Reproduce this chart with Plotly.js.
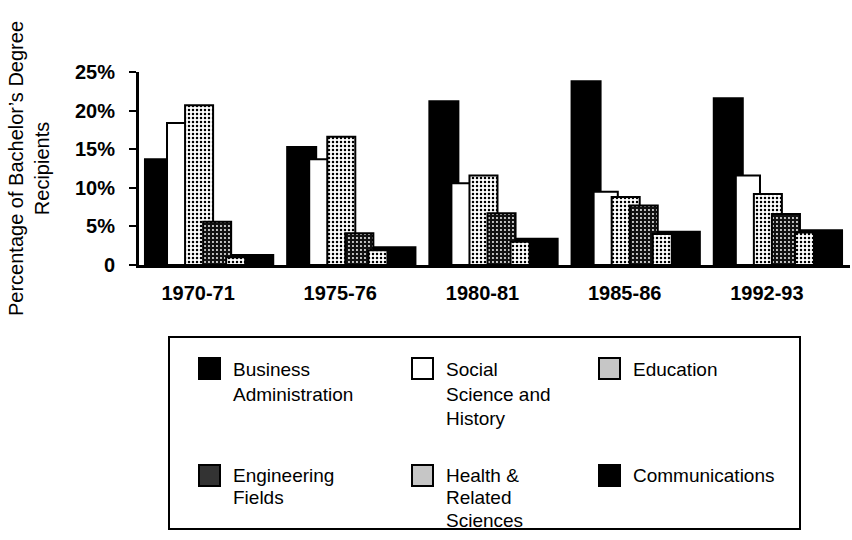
<!DOCTYPE html>
<html>
<head>
<meta charset="utf-8">
<script src="https://cdn.plot.ly/plotly-3.0.1.min.js"></script>
<style>
  html, body { margin: 0; padding: 0; background: #fff; }
  #chart { width: 852px; height: 540px; }
</style>
</head>
<body>
<div id="chart"></div>
<script>
// Academic years on the category axis
const years = ['1970-71', '1975-76', '1980-81', '1985-86', '1992-93'];

// Share of bachelor's degree recipients by field (percent)
const businessAdmin   = [13.7, 15.3, 21.2, 23.8, 21.6];
const socialScience   = [18.4, 13.7, 10.6,  9.5, 11.6];
const education       = [20.7, 16.6, 11.6,  8.8,  9.2];
const engineering     = [ 5.6,  4.1,  6.7,  7.7,  6.6];
const healthSciences  = [ 1.0,  1.9,  3.0,  4.0,  4.2];
const communications  = [ 1.3,  2.3,  3.4,  4.3,  4.5];

// Series names and their wrapped key labels (one entry per line)
const seriesNames = ['Business Administration', 'Social Science and History', 'Education',
                     'Engineering Fields', 'Health & Related Sciences', 'Communications'];
const keyLines = [
  ['Business', 'Administration'],
  ['Social', 'Science and', 'History'],
  ['Education'],
  ['Engineering', 'Fields'],
  ['Health &', 'Related', 'Sciences'],
  ['Communications']
];

// Y axis ticks
const yTickVals = [0, 5, 10, 15, 20, 25];
const yTickText = ['0', '5%', '10%', '15%', '20%', '25%'];

// Boundaries between year groups (for the crossing tick marks)
const groupEdges = [-0.5, 0.5, 1.5, 2.5, 3.5, 4.5];

const FONT = 'Liberation Sans, Arial, Helvetica, sans-serif';

// Stippled fills
const lightDots = { shape: '.', fgcolor: '#000', bgcolor: '#fff', size: 4, solidity: 0.3, fillmode: 'replace' };
const darkDots  = { shape: '.', fgcolor: '#fff', bgcolor: '#111', size: 4, solidity: 0.18, fillmode: 'replace' };

const outline = { color: '#000', width: 2 };

// Overlapping bars, drawn back to front
const series = [
  { y: businessAdmin,  name: seriesNames[0], offset: -0.458, width: 0.204, marker: { color: '#000', line: outline } },
  { y: socialScience,  name: seriesNames[1], offset: -0.303, width: 0.170, marker: { color: '#fff', line: outline } },
  { y: education,      name: seriesNames[2], offset: -0.176, width: 0.197, marker: { color: '#fff', pattern: lightDots, line: outline } },
  { y: engineering,    name: seriesNames[3], offset: -0.049, width: 0.197, marker: { color: '#111', pattern: darkDots, line: outline } },
  { y: communications, name: seriesNames[5], offset:  0.155, width: 0.289, marker: { color: '#000', line: outline } },
  { y: healthSciences, name: seriesNames[4], offset:  0.113, width: 0.134, marker: { color: '#fff', pattern: lightDots, line: outline } }
];

const traces = series.map(s => ({
  type: 'bar',
  x: years,
  y: s.y,
  name: s.name,
  offset: s.offset,
  width: s.width,
  marker: s.marker,
  hoverinfo: 'x+y+name',
  showlegend: false
}));

// Plot area in pixels, used to place the key box
const AREA = { l: 139, r: 850, t: 72, b: 265 };
const px = x => (x - AREA.l) / (AREA.r - AREA.l);
const py = y => (AREA.b - y) / (AREA.b - AREA.t);

const swatchFill = ['#000', '#fff', '#c6c6c6', '#333', '#c6c6c6', '#000'];
const colX = [199, 412, 599];
const rowY = [358, 465];
const lineCenters = [[369, 394, 418], [475, 498, 520]];
const SW = 21;

const shapes = [{
  type: 'rect', xref: 'paper', yref: 'paper',
  x0: px(169), x1: px(800), y0: py(529), y1: py(337),
  line: { color: '#000', width: 2 }, fillcolor: 'rgba(0,0,0,0)'
}];
const annotations = [];
keyLines.forEach((lines, i) => {
  const col = i % 3;
  const row = Math.floor(i / 3);
  const cx = colX[col];
  const cy = rowY[row];
  shapes.push({
    type: 'rect', xref: 'paper', yref: 'paper',
    x0: px(cx), x1: px(cx + SW), y0: py(cy + SW), y1: py(cy),
    line: { color: '#000', width: 2 }, fillcolor: swatchFill[i]
  });
  lines.forEach((txt, k) => {
    annotations.push({
      xref: 'paper', yref: 'paper',
      x: px(cx + 32), y: py(lineCenters[row][k]),
      xanchor: 'left', yanchor: 'middle', align: 'left',
      showarrow: false, text: txt,
      font: { family: FONT, size: 19, color: '#000' }
    });
  });
});

const layout = {
  width: 852, height: 540,
  margin: { l: AREA.l, r: 852 - AREA.r, t: AREA.t, b: 540 - AREA.b, pad: 0 },
  paper_bgcolor: '#fff', plot_bgcolor: '#fff',
  barmode: 'overlay',
  showlegend: false,
  font: { family: FONT, size: 20, color: '#000' },
  xaxis: {
    type: 'category', range: [-0.5, 4.5],
    showline: true, linecolor: '#000', linewidth: 3,
    ticks: '', showgrid: false, zeroline: false,
    tickfont: { family: FONT, size: 20, color: '#000', weight: 'bold' },
    ticklabelstandoff: 8, ticklabelshift: -12,
    fixedrange: true
  },
  xaxis2: {
    overlaying: 'x', anchor: 'y', side: 'bottom', type: 'linear',
    range: [-0.5, 4.5], tickvals: groupEdges,
    ticks: 'outside', ticklen: 8, tickwidth: 2, tickcolor: '#000',
    showticklabels: false, showline: false, showgrid: false, zeroline: false
  },
  xaxis3: {
    overlaying: 'x', anchor: 'y', side: 'bottom', type: 'linear',
    range: [-0.5, 4.5], tickvals: groupEdges,
    ticks: 'inside', ticklen: 8, tickwidth: 2, tickcolor: '#000',
    showticklabels: false, showline: false, showgrid: false, zeroline: false
  },
  yaxis: {
    range: [0, 25], tickvals: yTickVals, ticktext: yTickText,
    showline: true, linecolor: '#000', linewidth: 3,
    ticks: 'outside', ticklen: 7, tickwidth: 2, tickcolor: '#000',
    showgrid: false, zeroline: false,
    tickfont: { family: FONT, size: 20, color: '#000', weight: 'bold' },
    ticklabelstandoff: 10,
    title: {
      text: 'Percentage of Bachelor’s Degree<br>Recipients',
      font: { family: FONT, size: 20, color: '#000' },
      standoff: 20
    },
    fixedrange: true
  },
  yaxis2: {
    overlaying: 'y', anchor: 'x', side: 'left',
    range: [0, 25], tickvals: yTickVals,
    ticks: 'inside', ticklen: 7, tickwidth: 2, tickcolor: '#000',
    showticklabels: false, showline: false, showgrid: false, zeroline: false
  },
  shapes: shapes,
  annotations: annotations
};

Plotly.newPlot('chart', traces, layout, { displayModeBar: false, staticPlot: true });
</script>
</body>
</html>
